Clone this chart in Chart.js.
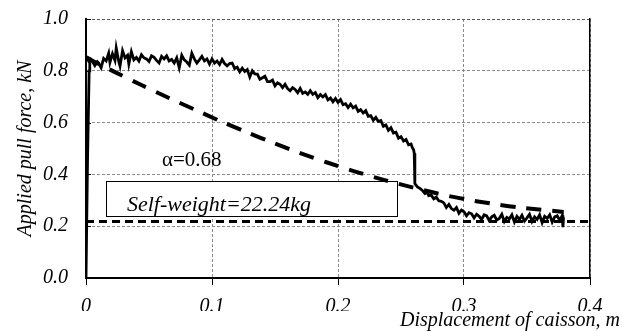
<!DOCTYPE html>
<html>
<head>
<meta charset="utf-8">
<script src="https://cdn.jsdelivr.net/npm/chart.js@4/dist/chart.umd.min.js"></script>
<style>
  html, body { margin: 0; padding: 0; background: #fff; }
</style>
</head>
<body>
<canvas id="myChart" width="622" height="331"></canvas>
<script>
// tick values
const xTicks = [0, 0.1, 0.2, 0.3, 0.4];
const yTicks = [0, 0.2, 0.4, 0.6, 0.8, 1.0];

// measured pull-out curve (displacement m, force kN)
const dispMeasured = [
  0, 0.0012, 0.0025, 0.003, 0, 0.004, 0.007, 0.009,
  0.010, 0.012, 0.014, 0.016, 0.018, 0.019, 0.021, 0.023, 0.024, 0.026,
  0.027, 0.029, 0.031, 0.033, 0.034, 0.036, 0.038, 0.040, 0.042, 0.044,
  0.046, 0.048, 0.050, 0.052, 0.054, 0.056, 0.058, 0.060, 0.062, 0.064,
  0.066, 0.068, 0.070, 0.072, 0.074, 0.076, 0.078, 0.080, 0.082, 0.084,
  0.086, 0.088, 0.090, 0.092, 0.094, 0.096, 0.098, 0.100, 0.102, 0.104,
  0.106, 0.108, 0.110, 0.112, 0.114, 0.116, 0.118, 0.120, 0.122, 0.124,
  0.126, 0.128, 0.130, 0.132, 0.134, 0.136, 0.138, 0.140, 0.142, 0.144,
  0.146, 0.148, 0.150, 0.152, 0.154, 0.156, 0.158, 0.160, 0.162, 0.164,
  0.166, 0.168, 0.170, 0.172, 0.174, 0.176, 0.178, 0.180, 0.182, 0.184,
  0.186, 0.188, 0.190, 0.192, 0.194, 0.196, 0.198, 0.200, 0.202, 0.204,
  0.206, 0.208, 0.210, 0.212, 0.214, 0.216, 0.218, 0.220, 0.222, 0.224,
  0.226, 0.228, 0.230, 0.232, 0.234, 0.236, 0.238, 0.240, 0.242, 0.244,
  0.246, 0.248, 0.250, 0.252, 0.254, 0.256, 0.258, 0.259, 0.260, 0.2605,
  0.261, 0.263, 0.265, 0.267, 0.269, 0.271, 0.272, 0.274, 0.276, 0.278,
  0.280, 0.282, 0.284, 0.286, 0.288, 0.290, 0.292, 0.294, 0.296, 0.298,
  0.300, 0.302, 0.304, 0.306, 0.308, 0.310, 0.312, 0.314, 0.316, 0.318,
  0.320, 0.322, 0.324, 0.326, 0.328, 0.330, 0.332, 0.334, 0.336, 0.338,
  0.340, 0.342, 0.344, 0.346, 0.348, 0.350, 0.352, 0.354, 0.356, 0.358,
  0.360, 0.362, 0.364, 0.366, 0.368, 0.370, 0.372, 0.374, 0.376, 0.378,
  0.3785, 0.379
];
const forceMeasured = [
  0, 0.45, 0.80, 0.83, 0.855, 0.845, 0.820, 0.835,
  0.830, 0.812, 0.848, 0.838, 0.868, 0.832, 0.866, 0.840, 0.888, 0.836,
  0.818, 0.878, 0.850, 0.860, 0.826, 0.874, 0.842, 0.852, 0.838, 0.862,
  0.850, 0.846, 0.836, 0.858, 0.852, 0.840, 0.830, 0.856, 0.846, 0.858,
  0.838, 0.844, 0.830, 0.850, 0.812, 0.860, 0.842, 0.834, 0.822, 0.868,
  0.846, 0.830, 0.842, 0.856, 0.838, 0.846, 0.826, 0.846, 0.830, 0.838,
  0.824, 0.844, 0.828, 0.819, 0.828, 0.830, 0.809, 0.814, 0.796, 0.810,
  0.797, 0.805, 0.776, 0.800, 0.788, 0.787, 0.767, 0.773, 0.779, 0.758,
  0.758, 0.764, 0.742, 0.754, 0.748, 0.735, 0.748, 0.731, 0.723, 0.735,
  0.728, 0.715, 0.732, 0.713, 0.718, 0.709, 0.723, 0.709, 0.716, 0.696,
  0.708, 0.699, 0.708, 0.688, 0.695, 0.680, 0.693, 0.678, 0.689, 0.669,
  0.673, 0.658, 0.671, 0.657, 0.664, 0.643, 0.650, 0.637, 0.646, 0.624,
  0.627, 0.609, 0.620, 0.604, 0.608, 0.586, 0.591, 0.570, 0.580, 0.560,
  0.563, 0.540, 0.546, 0.529, 0.535, 0.514, 0.517, 0.503, 0.495, 0.482,
  0.365, 0.352, 0.346, 0.338, 0.326, 0.330, 0.318, 0.320, 0.306, 0.312,
  0.298, 0.296, 0.290, 0.272, 0.284, 0.268, 0.262, 0.272, 0.250, 0.262,
  0.256, 0.240, 0.252, 0.248, 0.232, 0.246, 0.238, 0.226, 0.244, 0.240,
  0.222, 0.236, 0.242, 0.224, 0.230, 0.246, 0.218, 0.234, 0.228, 0.244,
  0.216, 0.238, 0.226, 0.242, 0.220, 0.232, 0.246, 0.218, 0.236, 0.226,
  0.244, 0.214, 0.238, 0.230, 0.244, 0.216, 0.236, 0.240, 0.222, 0.242,
  0.196, 0.234
];

// predicted curve, alpha = 0.68
const dispAlpha = [0, 0.023, 0.044, 0.065, 0.086, 0.106, 0.127, 0.150, 0.170,
  0.192, 0.213, 0.237, 0.259, 0.279, 0.301, 0.321, 0.344, 0.379];
const forceAlpha = [0.851, 0.795, 0.745, 0.697, 0.651, 0.607, 0.564, 0.519, 0.482,
  0.445, 0.412, 0.378, 0.350, 0.326, 0.304, 0.288, 0.272, 0.255];

// self-weight reference line
const dispSelfWeight = [0, 0.4];
const forceSelfWeight = [0.218, 0.218];

const toPoints = (xs, ys) => xs.map((x, i) => ({ x, y: ys[i] }));

const serif = '"Liberation Serif", "Times New Roman", serif';

const annotationPlugin = {
  id: 'annotations',
  beforeDatasetsDraw(chart) {
    const { ctx, scales: { x, y } } = chart;
    ctx.save();
    // self-weight box
    const bx1 = Math.round(x.getPixelForValue(0.016)) + 0.5;
    const bx2 = Math.round(x.getPixelForValue(0.247)) + 0.5;
    const by1 = Math.round(y.getPixelForValue(0.375)) + 0.5;
    const by2 = Math.round(y.getPixelForValue(0.240)) + 0.5;
    ctx.fillStyle = '#fff';
    ctx.fillRect(bx1, by1, bx2 - bx1, by2 - by1);
    ctx.strokeStyle = '#000';
    ctx.lineWidth = 1;
    ctx.strokeRect(bx1, by1, bx2 - bx1, by2 - by1);
    ctx.fillStyle = '#000';
    ctx.textBaseline = 'alphabetic';
    ctx.textAlign = 'left';
    ctx.font = 'italic 22px ' + serif;
    ctx.fillText('Self-weight=22.24kg', x.getPixelForValue(0.0325), y.getPixelForValue(0.259));
    ctx.font = '21px ' + serif;
    ctx.fillText('\u03b1=0.68', x.getPixelForValue(0.0603), y.getPixelForValue(0.433));
    // short inner ticks on left axis
    ctx.lineWidth = 1;
    yTicks.forEach((v) => {
      const py = Math.round(y.getPixelForValue(v)) + 0.5;
      ctx.beginPath();
      ctx.moveTo(x.left, py);
      ctx.lineTo(x.left + 5, py);
      ctx.stroke();
    });
    ctx.restore();
  },
};

const myChartRef = document.getElementById('myChart').getContext('2d');
const pullChart = new Chart(myChartRef, {
  type: 'scatter',
  data: {
    datasets: [
      {
        label: 'Self-weight',
        data: toPoints(dispSelfWeight, forceSelfWeight),
        showLine: true,
        borderColor: '#000',
        borderWidth: 3,
        borderDash: [8, 5],
        pointRadius: 0,
      },
      {
        label: 'alpha=0.68',
        data: toPoints(dispAlpha, forceAlpha),
        showLine: true,
        borderColor: '#000',
        borderWidth: 4,
        borderDash: [15, 11],
        pointRadius: 0,
        tension: 0.3,
      },
      {
        label: 'Measured',
        data: toPoints(dispMeasured, forceMeasured),
        showLine: true,
        borderColor: '#000',
        borderWidth: 2.8,
        pointRadius: 0,
        tension: 0,
      },
    ],
  },
  options: {
    responsive: false,
    animation: false,
    devicePixelRatio: 1,
    layout: { padding: { top: 19, right: 2, bottom: 0, left: 0 } },
    plugins: {
      legend: { display: false },
      tooltip: { enabled: false },
      title: {
        display: true,
        position: 'bottom',
        align: 'end',
        text: 'Displacement of caisson, m',
        color: '#000',
        font: { family: serif, size: 20, style: 'italic', weight: 'normal', lineHeight: 1 },
        padding: { top: 0, bottom: 0 },
      },
    },
    scales: {
      x: {
        type: 'linear',
        min: 0,
        max: 0.4,
        afterBuildTicks: (scale) => { scale.ticks = xTicks.map((v) => ({ value: v })); },
        afterFit: (scale) => { scale.height = 33; },
        ticks: {
          color: '#000',
          padding: 10,
          font: { family: serif, size: 20, style: 'italic' },
          callback: (v) => (v === 0 ? '0' : Number(v).toFixed(1)),
        },
        grid: {
          color: '#8c8c8c',
          lineWidth: 1,
          tickLength: 7,
          tickColor: '#000',
          tickWidth: 1,
          tickBorderDash: [],
        },
        border: { display: true, color: '#000', width: 2, dash: [3, 2] },
      },
      y: {
        type: 'linear',
        min: 0,
        max: 1,
        afterBuildTicks: (scale) => { scale.ticks = yTicks.map((v) => ({ value: v })); },
        afterFit: (scale) => { scale.width = 86; },
        ticks: {
          color: '#000',
          padding: 0,
          font: { family: serif, size: 20, style: 'italic' },
          callback: (v) => Number(v).toFixed(1),
        },
        grid: {
          color: (c) => (c.tick && c.tick.value === 1 ? '#555' : '#8c8c8c'),
          lineWidth: 1,
          drawTicks: true,
          tickLength: 18,
          tickColor: 'rgba(0,0,0,0)',
        },
        border: { display: true, color: '#000', width: 2, dash: [3, 2] },
        title: {
          display: true,
          text: 'Applied pull force, kN',
          color: '#000',
          font: { family: serif, size: 20, style: 'italic', weight: 'normal' },
          padding: { top: 14, bottom: 0 },
        },
      },
      y2: {
        type: 'linear',
        position: 'right',
        min: 0,
        max: 1,
        afterFit: (scale) => { scale.width = 30; },
        ticks: { display: false },
        grid: { display: false, drawOnChartArea: false },
        border: { display: true, color: '#000', width: 1.5 },
      },
    },
  },
  plugins: [annotationPlugin],
});
</script>
</body>
</html>
